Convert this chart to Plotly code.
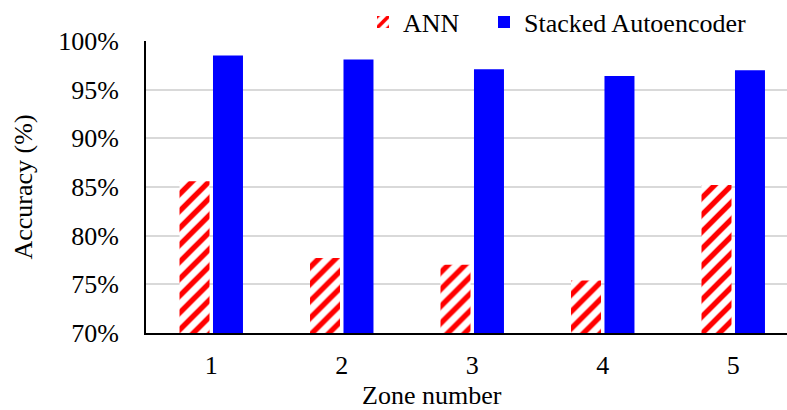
import plotly.graph_objects as go

zones = ["1", "2", "3", "4", "5"]
ann_acc = [85.6, 77.7, 77.0, 75.4, 85.2]
sae_acc = [98.5, 98.1, 97.1, 96.4, 97.0]
y_ticks = [70, 75, 80, 85, 90, 95, 100]
y_tick_text = [f"{v}%" for v in y_ticks]

FONT = "Liberation Serif, Times New Roman, serif"
FS = 26

fig = go.Figure()
fig.add_trace(go.Bar(
    name="ANN", x=zones, y=ann_acc, legend="legend",
    marker=dict(
        color="white",
        line=dict(width=0),
        pattern=dict(shape="/", fgcolor="#ff0000", bgcolor="white",
                     size=12, solidity=0.45, fillmode="replace"),
    ),
))
fig.add_trace(go.Bar(
    name="Stacked Autoencoder", x=zones, y=sae_acc, legend="legend2",
    marker=dict(color="#0000ff", line=dict(width=0)),
))

legend_style = dict(orientation="h", yanchor="middle", y=1.065, xanchor="left",
                    font=dict(size=FS), bgcolor="rgba(0,0,0,0)",
                    itemsizing="constant", itemwidth=30)

fig.update_layout(
    width=787, height=410,
    margin=dict(l=146, r=0, t=41, b=77, autoexpand=False),
    paper_bgcolor="white", plot_bgcolor="white",
    font=dict(family=FONT, size=FS, color="black"),
    barmode="group", bargap=0.487, bargroupgap=0.104,
    showlegend=True,
    legend=dict(x=(363 - 146) / 641, **legend_style),
    legend2=dict(x=(484 - 146) / 641, **legend_style),
)
fig.update_xaxes(
    type="category", range=[-0.5, 4.412],
    showline=True, linecolor="black", linewidth=2,
    showgrid=False, ticks="", ticklabelstandoff=8,
    tickfont=dict(size=FS),
)
fig.update_yaxes(
    range=[70, 100], tickvals=y_ticks, ticktext=y_tick_text,
    showline=True, linecolor="black", linewidth=2,
    showgrid=True, gridcolor="#d9d9d9", gridwidth=2,
    ticks="", ticklabelstandoff=20, tickfont=dict(size=FS),
    title=dict(text="Accuracy (%)", font=dict(size=FS), standoff=18),
    zeroline=False,
)
fig.add_annotation(text="Zone number", xref="paper", yref="paper",
                   x=(432 - 146) / 641, y=(333 - 395) / 292, xanchor="center", yanchor="middle",
                   showarrow=False, font=dict(size=FS))

fig.write_html("out.html")
